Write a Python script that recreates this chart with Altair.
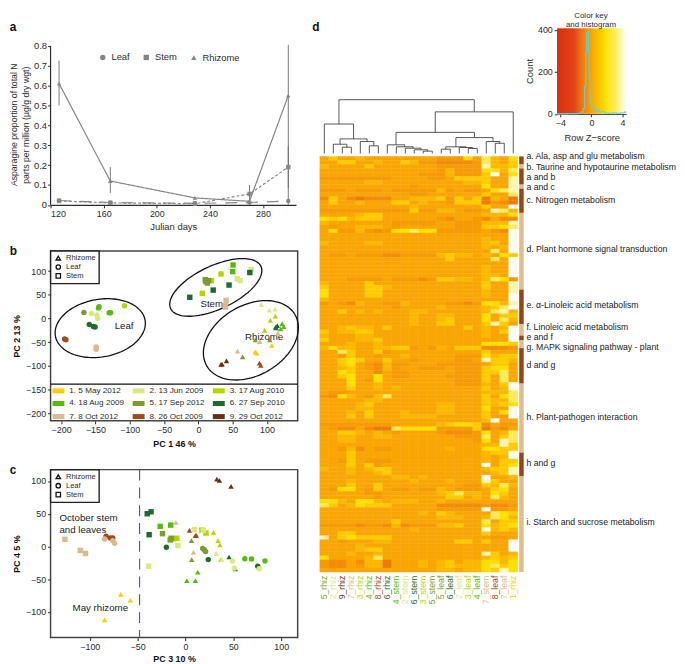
import math
import pandas as pd
import altair as alt

FONT = "Liberation Sans"
DARK = "#2b2b2b"

# ---------- panel a ----------
A_DAYS = [126.4, 165, 228.7, 269.8, 299]
A_RHIZOME = [0.61, 0.12, 0.035, 0.018, 0.55]
A_STEM = [0.02, 0.01, 0.006, 0.055, 0.19]
A_LEAF = [0.022, 0.012, 0.008, 0.012, 0.02]
A_ERR_DAY = [126.4, 165, 269.8, 299, 299]
A_ERR_LOW = [0.50, 0.06, 0.0, 0.0, 0.085]
A_ERR_HIGH = [0.725, 0.19, 0.10, 0.805, 0.295]

# ---------- panels b and c ----------
DATES = ["1. 5 May 2012", "2. 13 Jun 2009", "3. 17 Aug 2010", "4. 18 Aug 2009", "5. 17 Sep 2012",
         "6. 27 Sep 2010", "7. 8 Oct 2012", "8. 26 Oct 2009", "9. 29 Oct 2012"]
DATE_COLORS = ["#FFCB05", "#DCE77D", "#B4D600", "#57BB0E", "#7E9C2E", "#1B6B2F", "#DDB98E", "#A0491A", "#6B2E12"]
TISSUES = ["Rhizome", "Leaf", "Stem"]
SHAPES = ["triangle-up", "circle", "square"]

B_LEAF = [(4,-144.7,25),(4,-145.7,22),(3,-107.7,27),(4,-127.9,12),(4,-130,12),(5,-166.8,12.6),(2,-156,10.5),
          (2,-148,7.7),(2,-146.6,0),(6,-159,-12.6),(6,-153,-17),(6,-150.5,-18),(8,-195,-43),(8,-193,-45),
          (7,-149,-60),(7,-149,-65),(7,-148.5,-62)]
B_STEM = [(4,50.5,113),(4,50,99),(3,33,94),(3,5.8,53),(3,19,80),(2,77,103.5),(2,56.7,84),(2,60.6,80),(5,10,82),
          (5,13,75),(5,11,78),(5,15,80),(6,21.6,60),(6,44.7,70.6),(6,75,97),(6,-12.5,44.8),(7,40.4,38.5),
          (7,39.4,27),(7,39.4,24)]
B_RHIZOME = [(2,91.8,29.4),(2,103.4,17.5),(2,112,19.6),(3,112,5),(3,105,-4),(3,96.6,-25),(4,122,-11),(4,124.5,-17),
             (4,120,-22),(6,112.5,-18),(6,115,-15),(6,113.5,-20),(5,83,-45),(5,104,-45),(5,64.4,-81),(7,116,-31),
             (7,89.4,-49),(7,57,-69),(1,107,-57),(1,82.7,-70.6),(1,85,-73),(8,89,-94),(8,91,-99),(9,34.6,-96.5),
             (9,41,-89.5),(9,33,-97)]
C_RHIZOME = [(9,32.8,102.8),(9,35.5,100.8),(9,47.6,91.7),(7,-10,36.8),(7,8.3,-9),(8,4.1,24.7),(8,10.3,16.6),(8,11.3,17),
             (3,29.3,21.7),(3,34,9),(3,36,2.5),(2,32,-10.6),(5,6.2,9),(5,6.5,-20),(3,37,-20),(2,38,-20),(6,45.5,-16),
             (6,52,-34),(4,1.4,-52),(4,10.3,-52),(4,12.8,-39),(1,-67.6,-73),(1,-57.6,-82),(1,-84.5,-112)]
C_LEAF = [(8,-83,15.6),(8,-78.6,13),(8,-76,13),(7,-84.5,11.6),(7,-76,9),(7,-74,5),(6,-20,-1),(6,23.8,-20),(4,62,-18.6),
          (4,69,-19),(4,83,-22),(6,75.5,-30),(2,49,-22),(2,51,-33),(2,77,-34),(5,18,-3),(5,19.7,-5),(5,21,-7.5)]
C_STEM = [(6,-40,50),(6,-36,53),(6,-38,18),(7,-126,11),(7,-110,-6),(7,-104.5,-10.6),(4,-26.5,30.7),(4,-15.5,32.7),
          (4,-16,10),(5,-24,19.6),(5,-15,12.6),(5,-13,12),(3,-9,12.6),(3,17,25),(3,21.4,20.6),(2,9.3,25.7),
          (2,-8,1.5),(2,-38.6,-30),(2,18.6,24.7)]

B_NOTES = [("Leaf", -122, -16), ("Stem", 3, 31), ("Rhizome", 68, -40)]
C_NOTES = [("October stem", -131.7, 43.3), ("and leaves", -131.7, 25.7), ("May rhizome", -118, -94)]
# name, centre x, centre y, long and short half axis (pixels), tilt (degrees)
ELLIPSES = [("Leaf", -143, -20.3, 46, 29, 10), ("Stem", 25.4, 65.6, 50.3, 21.8, 25), ("Rhizome", 76.5, -46, 51.5, 35.3, 30)]
B_X_PER_PX, B_Y_PER_PX = 1 / 0.6933, 1 / 0.477

# ---------- panel d ----------
COLUMNS = ["5_rhiz","2_rhiz","9_rhiz","7_rhiz","3_rhiz","4_rhiz","8_rhiz","6_rhiz","4_stem","2_stem","6_stem",
           "3_stem","5_stem","5_leaf","6_leaf","2_leaf","3_leaf","4_leaf","7_stem","8_leaf","7_leaf","1_rhiz"]
HEAT = """
35334333 33333 22263 7436
33553343 35422 11112 7435
43333533 33333 22222 8445
33333333 33333 24222 6647
33333333 33322 24222 5936
22222222 33332 23555 5338
33333443 33333 33344 5338
33333333 33233 33333 6338
22232223 22222 42322 3678
33333333 33223 33333 5337
15310111 33444 52535 0430
35334333 55343 32555 0210
33333333 33433 33333 5339
22222222 22522 44322 3874
33334553 33333 33333 4446
65645553 33333 21332 1311
43333333 22222 33222 4448
32334443 23333 33222 5567
36224212 66766 22222 3219
33333333 33333 33333 3339
33333333 33333 33333 4339
43333443 33333 33333 4539
33333333 33333 33333 4349
33333333 33333 33333 3739
32232221 12222 45443 4365
33333333 33333 35333 3739
33333333 33333 33333 3339
33333333 33333 33333 4339
33333333 33333 33333 4339
33333333 33333 33333 4439
33322223 22212 55443 4762
43333533 33333 33333 5338
53333554 33333 33333 5338
63333553 33333 33333 4338
63333553 33333 33333 4339
43333333 33333 33333 3339
23214332 24333 32212 6648
33333333 23333 43333 4579
33534343 33443 33333 4784
33333333 33433 44333 6355
33333333 33433 45333 6374
33333333 33433 55333 5853
33454435 33333 33353 4349
53445533 33333 33333 4359
43334433 33333 33333 4339
53334453 33333 33333 3339
33343343 33333 33333 6665
46443344 55232 43555 1112
33753352 33333 33333 5333
33253323 34333 33222 6455
33565335 33233 33223 8554
33563214 22333 22222 3553
33453214 23322 23222 5663
33653313 22333 33222 5573
33563363 22333 32222 5373
33363263 33333 33222 5373
33363343 33333 33222 4359
33353343 43333 33333 5349
32233333 33333 33333 4447
21643247 33333 33333 5367
33333443 33333 33333 5447
33334533 33333 44333 5456
33334433 33333 44333 6339
33343533 34333 44333 5369
33353533 34444 33333 5329
33333333 33333 33333 4933
22222222 33333 45665 1322
32113100 76666 22225 0213
33554343 23333 21112 6347
33443344 33333 33222 7357
33443333 33333 33332 6387
33333333 33333 33333 4485
33241322 33333 34333 6655
33353333 33333 33333 4559
33353333 33333 33333 4349
33253222 33333 33333 4355
33353523 33333 33333 9356
43343455 33333 33333 4558
33343345 33333 33333 3458
33333333 44343 33333 9334
33343333 33433 34333 8533
33353353 33333 33322 5474
32663253 22322 43222 3563
33333223 33333 45744 3653
33333323 33333 35534 3743
66436643 44433 43333 3333
75346555 33333 11111 2112
33333333 33333 22222 9223
33333333 33343 54333 3765
33333333 33333 44433 4764
33333333 53333 33333 7355
22221221 41222 44533 6456
33333333 33433 33333 9454
33553333 33333 33333 5333
83565555 33333 33333 3223
33233344 33333 33553 5339
33334333 33333 33333 3339
33334553 33333 33333 3339
33343343 33333 33333 8534
63333473 33333 33333 4545
21131440 33343 45344 6646
21132440 33343 45444 6756
33333333 33333 44344 6586
""".split("\n")
HEAT_ROWS = [r.replace(" ", "") for r in HEAT if r.strip()]
LEVEL_COLORS = ["#EE7A0A", "#F38C08", "#F69A05", "#F9A604", "#FBB802", "#FDCB00", "#FEE000", "#FBEB5A", "#FDF5B0", "#FFFDF2"]

SIDE_START = [0, 2, 3, 7, 8, 14, 33, 41.6, 44.4, 45.6, 47.5, 56.3, 73.4, 79.3]
SIDE_END = [2, 3, 7, 8, 14, 33, 41.6, 44.4, 45.6, 47.5, 56.3, 73.4, 79.3, 103]
SIDE_COLOR = ["#94461A", "#DDBD92"] * 7
SIDE_TEXT = ["a. Ala, asp and glu metabolism", "b. Taurine and hypotaurine metabolism", "a and b", "a and c",
             "c. Nitrogen metabolism", "d. Plant hormone signal transduction", "e. α-Linoleic acid metabolism",
             "f. Linoleic acid metabolism", "e and f", "g. MAPK signaling pathway - plant", "d and g",
             "h. Plant-pathogen interaction", "h and g", "i. Starch and sucrose metabolism"]
SIDE_TEXT_ROW = [-0.1, 2.6, 5.1, 7.5, 10.7, 23, 36.8, 42.2, 44.8, 47.3, 51.6, 64.5, 76, 90.6]

# merge name, left child, right child (column index or merge name), height
MERGES = [("A",2,3,6.3),("B",1,"A",9.3),("C",5,6,7.7),("D",4,"C",12),("E","B","D",14.7),("F",0,"E",29.7),
          ("G",11,12,2.3),("H",10,"G",3.7),("I",9,"H",5.3),("J",8,"I",6.7),("K",7,"J",8.7),("L",13,14,4.3),
          ("M",16,17,5),("N",15,"M",6),("O","L","N",6.7),("P",19,20,10.3),("Q",18,"P",12),("R","O","Q",16),
          ("S","K","R",21.3),("T","S",21,42),("U","F","T",54.3)]

HIST_Z = [-4.4,-2.0,-1.5,-1.15,-0.95,-0.78,-0.65,-0.55,-0.45,-0.35,-0.25,-0.12,0.0,0.12,0.3,0.5,0.8,1.1,1.5,2.0,2.5,3.0,3.5,4.0,4.5]
HIST_COUNT = [0,1,3,8,25,130,290,385,392,300,170,75,42,28,24,18,15,8,10,4,3,5,3,5,8]
KEY_STOPS = [(0,"#D9300F"),(0.247,"#E2431A"),(0.326,"#EB6A12"),(0.416,"#F58C05"),(0.53,"#FBB000"),(0.63,"#F9CC00"),
             (0.72,"#FFE40A"),(0.865,"#FDEF70"),(1,"#FFFFFF")]
KEY_TITLE = ["Color key", "and histogram"]
KEY_TITLE_Y = [465, 425]


def scatter_frame(rhizome, leaf, stem):
    rows = []
    for tissue, pts in (("Rhizome", rhizome), ("Leaf", leaf), ("Stem", stem)):
        rows += [{"tissue": tissue, "date": DATES[d - 1], "x": x, "y": y} for d, x, y in pts]
    return pd.DataFrame(rows)


def tissue_legend():
    return alt.Legend(orient="none", legendX=0, legendY=0, title=None, labelFontSize=7.6, symbolSize=20,
                      rowPadding=0, clipHeight=8.5, padding=3, symbolStrokeWidth=1.3, symbolStrokeColor="#111", symbolFillColor="white",
                      strokeColor="#222", fillColor="white", labelColor=DARK, symbolOffset=1, labelOffset=4)


def pc_axis(values, title, pad):
    return alt.Axis(values=values, tickCount=len(values), title=title, grid=False, domain=False, tickColor=DARK, tickSize=3, labelFontSize=9,
                    labelColor=DARK, titleFontSize=9, titleFontWeight="bold", titleColor="#111", titlePadding=pad,
                    labelOverlap=False)


def letter_layer(letter, x, y):
    df = pd.DataFrame({"t": [letter], "x": [x], "y": [y]})
    return alt.Chart(df).mark_text(fontSize=12, fontWeight="bold", align="left", baseline="alphabetic", color="#111").encode(
        x="x:Q", y="y:Q", text="t:N")


def pc_panel(df, xdom, ydom, xvals, yvals, xtitle, ytitle, height, extra_layers, color_legend, xpad):
    x = alt.X("x:Q", scale=alt.Scale(domain=xdom, nice=False, zero=False), axis=pc_axis(xvals, xtitle, xpad))
    y = alt.Y("y:Q", scale=alt.Scale(domain=ydom, nice=False, zero=False), axis=pc_axis(yvals, ytitle, 4))
    pts = alt.Chart(df).mark_point(filled=True, opacity=1, size=30, strokeWidth=0).encode(
        x=x, y=y,
        color=alt.Color("date:N", scale=alt.Scale(domain=DATES, range=DATE_COLORS), legend=color_legend),
        shape=alt.Shape("tissue:N", scale=alt.Scale(domain=TISSUES, range=SHAPES), legend=tissue_legend()),
    )
    return alt.layer(*extra_layers(x, y), pts).properties(
        width=249.7, height=height,
        view=alt.ViewConfig(stroke="#444", strokeWidth=1.5),
    )


def note_layer(notes):
    df = pd.DataFrame(notes, columns=["t", "x", "y"])
    return alt.Chart(df).mark_text(fontSize=9.8, align="left", color="#222").encode(x="x:Q", y="y:Q", text="t:N")


# ---------- build a ----------
a_lines = pd.DataFrame(
    [{"s": "Rhizome", "d": d, "v": v} for d, v in zip(A_DAYS, A_RHIZOME)]
    + [{"s": "Stem", "d": d, "v": v} for d, v in zip(A_DAYS, A_STEM)]
    + [{"s": "Leaf", "d": d, "v": v} for d, v in zip(A_DAYS, A_LEAF)]
)
a_xs = alt.Scale(domain=[120, 304.8], nice=False, zero=False)
a_ys = alt.Scale(domain=[0, 0.8885], nice=False)
a_x = alt.X("d:Q", scale=a_xs,
            axis=alt.Axis(values=list(range(120, 301, 20)), tickCount=9, title="Julian days", grid=False, labelFontSize=9, titleFontSize=9.5,
                          titleFontWeight="normal", domainColor=DARK, tickColor=DARK, tickSize=3, labelColor=DARK, titleColor=DARK,
                          titlePadding=3, domainWidth=1.2, labelOverlap=False))
a_yaxis = alt.Axis(values=[i / 10 for i in range(9)], tickCount=9, format="~g", grid=False, labelFontSize=9.5, domain=False,
                   tickColor=DARK, tickSize=3, labelColor=DARK, titleColor=DARK, titleFontSize=8.8, titleFontWeight="normal",
                   titlePadding=3, labelPadding=1, labelOverlap=False, titleY=97.5,
                   title="parts per million (µg/g dry wgt)")
a_y = alt.Y("v:Q", scale=a_ys, axis=a_yaxis)
a_err = pd.DataFrame({"d": A_ERR_DAY, "lo": A_ERR_LOW, "hi": A_ERR_HIGH})
panel_a = alt.layer(
    alt.Chart(pd.DataFrame({"d": [120], "lo": [0], "hi": [0.8]})).mark_rule(color=DARK, strokeWidth=1.2).encode(
        x=a_x, y=alt.Y("lo:Q", scale=a_ys, axis=a_yaxis), y2="hi:Q"),
    alt.Chart(a_err).mark_rule(color="#6b6b6b", strokeWidth=0.9).encode(x=a_x, y=alt.Y("lo:Q", scale=a_ys, axis=a_yaxis), y2="hi:Q"),
    alt.Chart(a_lines).mark_line(color="#8a8585", strokeWidth=1.2).encode(
        x=a_x, y=a_y,
        strokeDash=alt.StrokeDash("s:N", scale=alt.Scale(domain=["Rhizome", "Stem", "Leaf"], range=[[1, 0], [3, 2], [12, 9]]), legend=None)),
    alt.Chart(a_lines).mark_point(filled=True, opacity=1, color="#8a8585", size=20).encode(
        x=a_x, y=a_y,
        shape=alt.Shape("s:N", scale=alt.Scale(domain=["Leaf", "Stem", "Rhizome"], range=["circle", "square", "triangle-up"]),
                        legend=alt.Legend(orient="none", legendX=48, legendY=24.5, title=None, direction="horizontal", columns=3,
                                          labelFontSize=9.5, symbolSize=30, columnPadding=11, labelColor=DARK, labelOffset=4))),
    letter_layer("a", 89.2, 0.876),
    alt.Chart(pd.DataFrame({"d": [92.4], "v": [0.403], "t": ["Asparagine proportion of total N"]})).mark_text(
        angle=270, fontSize=8.8, align="center", baseline="middle", color=DARK).encode(x=a_x, y=a_y, text="t:N"),
).properties(width=248, height=178.5)

# ---------- build b ----------
ell_rows = []
for name, cx, cy, ra, rb, deg in ELLIPSES:
    th = math.radians(deg)
    for i in range(121):
        t = 2 * math.pi * i / 120
        px = ra * math.cos(t) * math.cos(th) - rb * math.sin(t) * math.sin(th)
        py = ra * math.cos(t) * math.sin(th) + rb * math.sin(t) * math.cos(th)
        ell_rows.append({"n": name, "i": i, "x": cx + px * B_X_PER_PX, "y": cy + py * B_Y_PER_PX})
ell_df = pd.DataFrame(ell_rows)


def b_extra(x, y):
    return [
        alt.Chart(ell_df).mark_line(color="#111", strokeWidth=1.3).encode(x=x, y=y, detail="n:N", order="i:Q"),
        note_layer(B_NOTES),
        alt.Chart(pd.DataFrame({"y": [-138.4]})).mark_rule(color="#111", strokeWidth=1.4).encode(y="y:Q"),
        letter_layer("b", -215.4 - 41.3 * B_X_PER_PX, 142.7 - 4 * B_Y_PER_PX),
    ]


date_legend = alt.Legend(orient="none", legendX=2, legendY=135, title=None, columns=3, labelFontSize=8.2, labelColor=DARK,
                         values=[DATES[i] for i in (0, 3, 6, 1, 4, 7, 2, 5, 8)], symbolType="M-1,-0.42H1V0.42H-1Z",
                         symbolSize=144, symbolStrokeWidth=0, rowPadding=3.2, columnPadding=8, gridAlign="all", labelOffset=5)
panel_b = pc_panel(scatter_frame(B_RHIZOME, B_LEAF, B_STEM), [-215.4, 144.7], [-216, 142.7], list(range(-200, 101, 50)),
                   list(range(-200, 101, 50)), "PC 1 46 %", "PC 2 13 %", 171.7, b_extra, date_legend, 5)


# ---------- build c ----------
def c_extra(x, y):
    return [
        alt.Chart(pd.DataFrame({"x": [-48]})).mark_rule(color="#4A5BC0", strokeWidth=1.2, strokeDash=[11, 7]).encode(x="x:Q"),
        note_layer(C_NOTES),
        letter_layer("c", -141 - 41.3 / 0.9667, 117.4 - 4 / 0.6617),
    ]


panel_c = pc_panel(scatter_frame(C_RHIZOME, C_LEAF, C_STEM), [-141, 117.2], [-139, 117.4], [-100, -50, 0, 50, 100],
                   [-100, -50, 0, 50, 100], "PC 3 10 %", "PC 4 5 %", 169.7, c_extra, None, 3)

# ---------- build dendrogram ----------
pos, tip = {}, {}
segments = []


def where(node):
    return (node + 0.5, 0.0) if isinstance(node, int) else (pos[node], tip[node])


for name, left, right, h in MERGES:
    lx, ly = where(left)
    rx, ry = where(right)
    segments += [(lx, lx, ly, h), (rx, rx, ry, h), (lx, rx, h, h)]
    pos[name], tip[name] = (lx + rx) / 2, h
seg_df = pd.DataFrame(segments, columns=["x", "x2", "y", "y2"])

DX = alt.Scale(domain=[-1, 22], nice=False, zero=False)
DY = alt.Scale(domain=[0, 126.5], nice=False)
panel_dendro = alt.layer(
    alt.Chart(seg_df).mark_rule(color="#444", strokeWidth=0.9).encode(
        x=alt.X("x:Q", scale=DX, axis=None), x2="x2:Q", y=alt.Y("y:Q", scale=DY, axis=None), y2="y2:Q"),
    alt.Chart(pd.DataFrame({"x": [-0.85], "y": [124], "t": ["d"]})).mark_text(
        fontSize=12, fontWeight="bold", align="left", baseline="alphabetic", color="#111").encode(x="x:Q", y="y:Q", text="t:N"),
).properties(width=209.09, height=126.5)

# ---------- build colour key ----------
KX = alt.Scale(domain=[-4.4, 4.5], nice=False, zero=False)
KY = alt.Scale(domain=[0, 408], nice=False)
key_axis_x = alt.Axis(values=[-4, -2, 0, 2, 4], tickCount=4, title="Row Z−score", grid=False, labelFontSize=9, titleFontSize=9.5,
                      titleFontWeight="normal", tickSize=3, tickColor=DARK, domainColor=DARK, labelColor=DARK, titleColor=DARK, titlePadding=5,
                      labelOverlap=False)
key_axis_y = alt.Axis(values=[0, 100, 200, 300, 400], tickCount=4, title="Count", grid=False, labelFontSize=9, titleFontSize=9.5,
                      titleFontWeight="normal", tickSize=3, tickColor=DARK, domainColor=DARK, labelColor=DARK, titleColor=DARK, titlePadding=3,
                      labelOverlap=False)
gradient = alt.Gradient(gradient="linear", x1=0, x2=1, y1=0, y2=0,
                        stops=[alt.GradientStop(offset=o, color=c) for o, c in KEY_STOPS])
panel_key = alt.layer(
    alt.Chart(pd.DataFrame({"x": [-4.4], "x2": [4.5], "y": [0], "y2": [408]})).mark_rect(color=gradient).encode(
        x=alt.X("x:Q", scale=KX, axis=key_axis_x), x2="x2:Q", y=alt.Y("y:Q", scale=KY, axis=key_axis_y), y2="y2:Q"),
    alt.Chart(pd.DataFrame({"x": HIST_Z, "y": HIST_COUNT})).mark_line(color="#67CFD8", strokeWidth=1.1, interpolate="step").encode(
        x=alt.X("x:Q", scale=KX), y=alt.Y("y:Q", scale=KY)),
    alt.Chart(pd.DataFrame({"x": [-0.05, -0.05], "y": KEY_TITLE_Y, "t": KEY_TITLE})).mark_text(
        fontSize=8, align="center", baseline="middle", color=DARK).encode(
        x=alt.X("x:Q", scale=KX), y=alt.Y("y:Q", scale=KY), text="t:N"),
).properties(width=69.7, height=86.5)

# ---------- build heat map ----------
heat_df = pd.DataFrame([
    {"x": c, "x2": c + 1, "y": r, "y2": r + 1, "hex": LEVEL_COLORS[int(row[c])]}
    for r, row in enumerate(HEAT_ROWS) for c in range(len(COLUMNS))
])
HX = alt.Scale(domain=[-1, 39.57], nice=False, zero=False)
HY = alt.Scale(domain=[103, 0], nice=False, zero=False)
label_color = {str(i + 1): DATE_COLORS[i] for i in range(9)}
col_df = pd.DataFrame({"t": COLUMNS, "x": [i + 0.5 for i in range(len(COLUMNS))], "y": [103.9] * len(COLUMNS),
                       "c": [label_color[c[0]] for c in COLUMNS]})
side_df = pd.DataFrame({"s": SIDE_START, "e": SIDE_END, "c": SIDE_COLOR, "x": [22.16] * 14, "x2": [22.66] * 14})
side_text = pd.DataFrame({"t": SIDE_TEXT, "y": SIDE_TEXT_ROW, "x": [22.96] * len(SIDE_TEXT)})
panel_heat = alt.layer(
    alt.Chart(heat_df).mark_rect(strokeWidth=0.4).encode(
        x=alt.X("x:Q", scale=HX, axis=None), x2="x2:Q", y=alt.Y("y:Q", scale=HY, axis=None), y2="y2:Q",
        color=alt.Color("hex:N", scale=None), stroke=alt.Stroke("hex:N", scale=None)),
    alt.Chart(side_df).mark_rect().encode(x="x:Q", x2="x2:Q", y="s:Q", y2="e:Q", color=alt.Color("c:N", scale=None)),
    alt.Chart(side_text).mark_text(fontSize=8.8, align="left", color="#222").encode(x="x:Q", y="y:Q", text="t:N"),
    alt.Chart(col_df).mark_text(fontSize=8.8, angle=270, align="right", baseline="middle").encode(
        x="x:Q", y="y:Q", text="t:N", color=alt.Color("c:N", scale=None)),
).properties(width=368.8, height=420)

# ---------- page ----------
left = alt.vconcat(panel_a, panel_b, panel_c, spacing=13).resolve_scale(color="independent", shape="independent").resolve_legend(color="independent", shape="independent")
right = alt.vconcat(alt.hconcat(panel_dendro, panel_key, spacing=5), panel_heat, spacing=-2.5)
chart = alt.hconcat(left, right, spacing=9).properties(padding=0).configure(font=FONT).configure_view(stroke=None).configure_legend(strokeWidth=1.4)
chart.save("out.html", embed_options={"renderer": "svg", "actions": False})
